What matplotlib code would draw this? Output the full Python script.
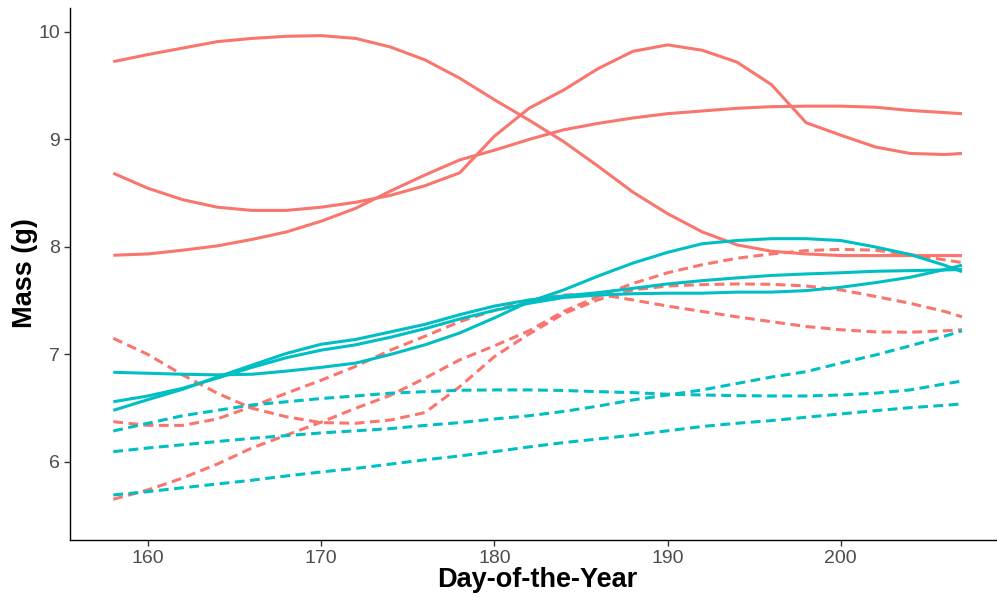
import matplotlib
matplotlib.use("Agg")
import matplotlib.pyplot as plt

RED = "#F8766D"
TEAL = "#00BFC4"

days = [158, 160, 162, 164, 166, 168, 170, 172, 174, 176, 178, 180, 182,
        184, 186, 188, 190, 192, 194, 196, 198, 200, 202, 204, 206, 207]

# red, solid
r1 = [9.724, 9.79, 9.85, 9.91, 9.94, 9.96, 9.966, 9.94, 9.86, 9.74, 9.57, 9.37, 9.18,
      8.98, 8.75, 8.51, 8.31, 8.14, 8.02, 7.96, 7.935, 7.92, 7.92, 7.92, 7.92, 7.92]
r2 = [8.686, 8.546, 8.44, 8.37, 8.34, 8.34, 8.37, 8.416, 8.48, 8.57, 8.69, 9.03, 9.29,
      9.46, 9.66, 9.82, 9.88, 9.83, 9.72, 9.51, 9.156, 9.04, 8.93, 8.87, 8.86, 8.87]
r3 = [7.923, 7.935, 7.97, 8.01, 8.07, 8.14, 8.24, 8.36, 8.52, 8.67, 8.81, 8.90, 9.0,
      9.09, 9.15, 9.20, 9.24, 9.265, 9.29, 9.305, 9.31, 9.31, 9.30, 9.27, 9.25, 9.24]

# red, dashed
d1 = [7.15, 7.0, 6.81, 6.64, 6.50, 6.42, 6.366, 6.36, 6.39, 6.46, 6.70, 6.98, 7.19,
      7.38, 7.51, 7.60, 7.637, 7.65, 7.656, 7.653, 7.637, 7.60, 7.54, 7.476, 7.40, 7.35]
d2 = [6.375, 6.34, 6.34, 6.40, 6.515, 6.64, 6.76, 6.89, 7.04, 7.17, 7.305, 7.41, 7.50,
      7.553, 7.56, 7.507, 7.45, 7.40, 7.35, 7.305, 7.26, 7.23, 7.21, 7.207, 7.22, 7.23]
d3 = [5.653, 5.74, 5.85, 5.98, 6.13, 6.25, 6.37, 6.50, 6.62, 6.78, 6.95, 7.08, 7.22,
      7.40, 7.54, 7.66, 7.76, 7.835, 7.895, 7.935, 7.966, 7.978, 7.97, 7.93, 7.88, 7.855]

# teal, solid
t1 = [6.834, 6.825, 6.816, 6.81, 6.816, 6.845, 6.88, 6.92, 7.0, 7.09, 7.20, 7.34, 7.49,
      7.60, 7.73, 7.85, 7.95, 8.03, 8.06, 8.077, 8.077, 8.06, 8.0, 7.93, 7.83, 7.77]
t2 = [6.56, 6.614, 6.685, 6.78, 6.88, 6.97, 7.04, 7.09, 7.16, 7.24, 7.33, 7.41, 7.476,
      7.53, 7.553, 7.565, 7.57, 7.57, 7.58, 7.58, 7.594, 7.625, 7.668, 7.718, 7.79, 7.83]
t3 = [6.48, 6.58, 6.676, 6.79, 6.90, 7.01, 7.095, 7.14, 7.21, 7.28, 7.37, 7.45, 7.507,
      7.544, 7.575, 7.615, 7.656, 7.687, 7.712, 7.735, 7.749, 7.76, 7.774, 7.78, 7.786, 7.79]

# teal, dashed
e1 = [6.288, 6.36, 6.43, 6.48, 6.53, 6.56, 6.59, 6.614, 6.64, 6.654, 6.667, 6.67, 6.67,
      6.665, 6.654, 6.645, 6.63, 6.623, 6.617, 6.614, 6.614, 6.623, 6.64, 6.67, 6.726, 6.753]
e2 = [6.096, 6.13, 6.16, 6.19, 6.22, 6.245, 6.27, 6.29, 6.31, 6.34, 6.366, 6.40, 6.43,
      6.47, 6.52, 6.577, 6.623, 6.67, 6.73, 6.79, 6.84, 6.92, 6.995, 7.08, 7.17, 7.22]
e3 = [5.693, 5.724, 5.76, 5.795, 5.83, 5.87, 5.907, 5.94, 5.98, 6.02, 6.056, 6.096, 6.14,
      6.18, 6.214, 6.25, 6.29, 6.33, 6.36, 6.385, 6.416, 6.447, 6.477, 6.505, 6.527, 6.54]

series = [(r1, RED, "-"), (r2, RED, "-"), (r3, RED, "-"),
          (d1, RED, "--"), (d2, RED, "--"), (d3, RED, "--"),
          (t1, TEAL, "-"), (t2, TEAL, "-"), (t3, TEAL, "-"),
          (e1, TEAL, "--"), (e2, TEAL, "--"), (e3, TEAL, "--")]

plt.rcParams["font.family"] = ["Liberation Sans", "DejaVu Sans"]

fig = plt.figure(figsize=(9.97, 5.97), dpi=100)
ax = fig.add_axes([70 / 997, 57 / 597, 927 / 997, 532 / 597])

for vals, col, ls in series:
    if ls == "--":
        ax.plot(days, vals, color=col, lw=2.2, linestyle=(0, (3.2, 1.8)),
                dash_capstyle="butt")
    else:
        ax.plot(days, vals, color=col, lw=2.2, solid_capstyle="butt",
                solid_joinstyle="round")

ax.set_xlim(155.5, 209.02)
ax.set_ylim(5.274, 10.223)
ax.set_xticks([160, 170, 180, 190, 200])
ax.set_yticks([6, 7, 8, 9, 10])

for side in ["top", "right"]:
    ax.spines[side].set_visible(False)
for side in ["left", "bottom"]:
    ax.spines[side].set_color("black")
    ax.spines[side].set_linewidth(1.0)

ax.tick_params(axis="both", colors="#333333", length=4, width=1.0,
               labelsize=14, labelcolor="#4D4D4D", pad=3)

# axis titles placed where the reference has them
fig.text(537 / 997, 1 - 580 / 597, "Day-of-the-Year", fontsize=19.5,
         fontweight="bold", ha="center", va="center")
fig.text(25 / 997, 1 - 273 / 597, "Mass (g)", fontsize=19.5, fontweight="bold",
         rotation=90, ha="center", va="center")

fig.savefig("out.png", dpi=100)
plt.close(fig)
